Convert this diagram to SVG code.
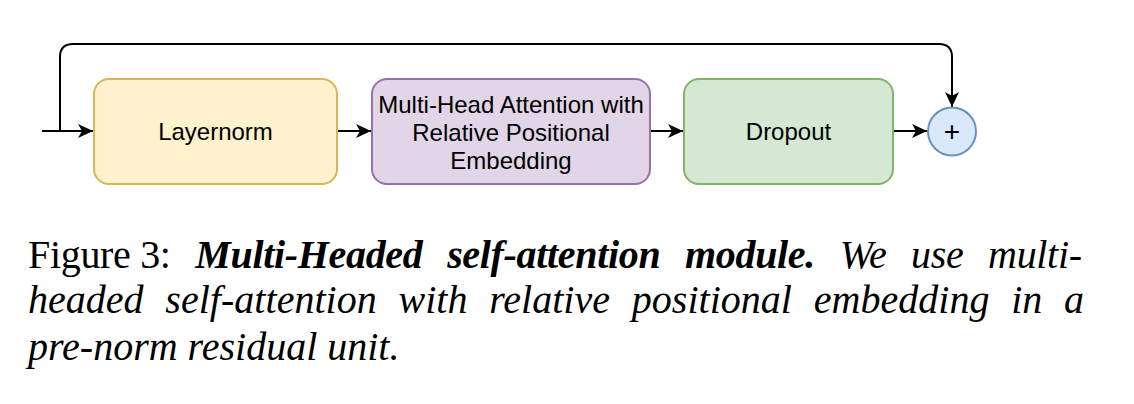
<svg xmlns="http://www.w3.org/2000/svg" width="1134" height="404" viewBox="0 0 1134 404">
<style>
.box{stroke-width:2}
.lbl{font-family:"Liberation Sans",Arial,sans-serif;font-size:24px;fill:#000;text-anchor:middle}
.edge{fill:none;stroke:#000;stroke-width:2}
.cap{font-family:"Liberation Serif","Times New Roman",serif;font-size:40px;fill:#000}
.bi{font-weight:bold;font-style:italic}
.it{font-style:italic}
</style>
<defs>
<marker id="arr" viewBox="0 0 15 14" refX="15" refY="7" markerWidth="15" markerHeight="14" markerUnits="userSpaceOnUse" orient="auto">
<path d="M0,0 L15,7 L0,14 L4,7 Z" fill="#000"/>
</marker>
</defs>
<rect width="1134" height="404" fill="#fff"/>
<g id="connectors">
<path class="edge" d="M42,131 H93" marker-end="url(#arr)"/>
<path class="edge" d="M337,131 H371" marker-end="url(#arr)"/>
<path class="edge" d="M650,131 H683" marker-end="url(#arr)"/>
<path class="edge" d="M893,131 H927" marker-end="url(#arr)"/>
<path class="edge" d="M60,131 V57 Q60,44 73,44 H939 Q952,44 952,57 V107" marker-end="url(#arr)"/>
</g>
<g id="layernorm">
<rect class="box" x="94" y="79" width="243" height="105" rx="15" fill="#fff2cc" stroke="#d6b656"/>
<text class="lbl" x="215.5" y="140">Layernorm</text>
</g>
<g id="mha">
<rect class="box" x="372" y="79" width="278" height="105" rx="15" fill="#e1d5e7" stroke="#9673a6"/>
<text class="lbl" x="511" y="112.5">Multi-Head Attention with</text>
<text class="lbl" x="511" y="140.5">Relative Positional</text>
<text class="lbl" x="511" y="168.5">Embedding</text>
</g>
<g id="dropout">
<rect class="box" x="684" y="79" width="209" height="105" rx="15" fill="#d5e8d4" stroke="#82b366"/>
<text class="lbl" x="788.5" y="140">Dropout</text>
</g>
<g id="add">
<circle class="box" cx="952" cy="131.5" r="24" fill="#dae8fc" stroke="#6c8ebf"/>
<text class="lbl" x="952" y="141" style="font-size:28px">+</text>
</g>
<g id="caption">
<text class="cap" x="28" y="268" word-spacing="15" textLength="1054" lengthAdjust="spacing"><tspan word-spacing="0">Figure 3:</tspan> <tspan class="bi">Multi-Headed self-attention module.</tspan><tspan class="it"> We use multi-</tspan></text>
<text class="cap it" x="28" y="313" word-spacing="11.7" textLength="1056" lengthAdjust="spacing">headed self-attention with relative positional embedding in a</text>
<text class="cap it" x="28" y="360">pre-norm residual unit.</text>
</g>
</svg>
